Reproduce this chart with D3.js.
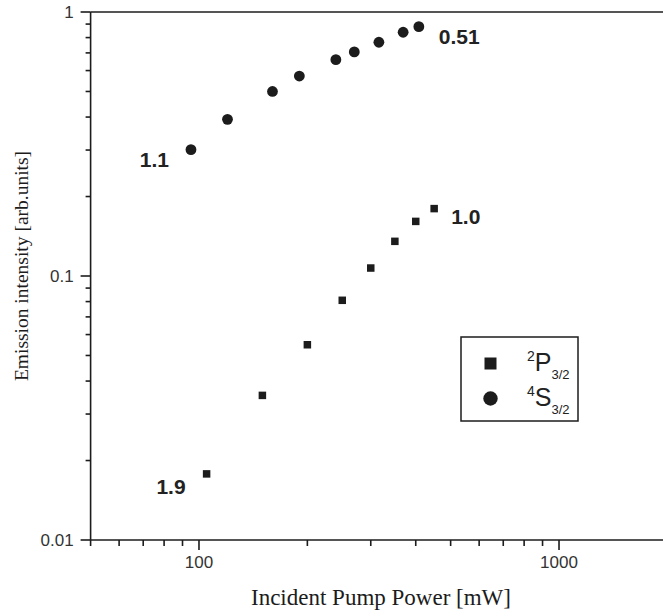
<!DOCTYPE html>
<html>
<head>
<meta charset="utf-8">
<script src="https://cdn.jsdelivr.net/npm/d3@7"></script>
<style>
  body { margin: 0; background: #fff; }
  svg { display: block; }
</style>
</head>
<body>
<svg id="chart"></svg>
<script>
var pumpP = [105, 150, 200, 250, 300, 350, 400, 450];
var intensP = [0.0178, 0.0353, 0.0549, 0.0809, 0.1072, 0.1353, 0.161, 0.180];
var pumpS = [95, 120, 160, 190, 240, 270, 316, 369, 408];
var intensS = [0.301, 0.392, 0.50, 0.572, 0.660, 0.706, 0.768, 0.838, 0.880];

// slope annotations
var slopeText = ["1.9", "1.0", "1.1", "0.51"];

var xTicks = [100, 1000];
var yTicks = [0.01, 0.1, 1];

var W = 663, H = 616;
var ink = "#1c1c1c";

var svg = d3.select("#chart")
    .attr("width", W)
    .attr("height", H);

var x = d3.scaleLog().domain([50, 2000]).range([90.6, 667.4]);
var y = d3.scaleLog().domain([0.01, 1]).range([540, 12]);

var sans = "'Liberation Sans', Arial, sans-serif";
var serif = "'Liberation Serif', 'Times New Roman', serif";

// minor ticks, every integer multiple within each decade
var xMinor = [];
[10, 100, 1000].forEach(function (d) {
    for (var k = 2; k <= 9; k++) {
        var v = d * k;
        if (v > 50 && v < 2000 && v !== 100 && v !== 1000) xMinor.push(v);
    }
});
xMinor.push(50);
var yMinor = [];
[0.01, 0.1].forEach(function (d) {
    for (var k = 2; k <= 9; k++) yMinor.push(d * k);
});

var axes = svg.append("g").attr("stroke", ink).attr("stroke-width", 1.6);

// top frame line and axes
axes.append("line").attr("x1", x(50)).attr("x2", W).attr("y1", y(1)).attr("y2", y(1));
axes.append("line").attr("x1", x(50)).attr("x2", W).attr("y1", y(0.01)).attr("y2", y(0.01));
axes.append("line").attr("x1", x(50)).attr("x2", x(50)).attr("y1", y(1)).attr("y2", y(0.01));

axes.selectAll(".xmin").data(xMinor).join("line")
    .attr("x1", d => x(d)).attr("x2", d => x(d))
    .attr("y1", y(0.01)).attr("y2", y(0.01) + 6);
axes.selectAll(".xmaj").data(xTicks).join("line")
    .attr("x1", d => x(d)).attr("x2", d => x(d))
    .attr("y1", y(0.01)).attr("y2", y(0.01) + 10);
axes.selectAll(".ymin").data(yMinor).join("line")
    .attr("x1", x(50) - 5).attr("x2", x(50))
    .attr("y1", d => y(d)).attr("y2", d => y(d));
axes.selectAll(".ymaj").data(yTicks).join("line")
    .attr("x1", x(50) - 10).attr("x2", x(50))
    .attr("y1", d => y(d)).attr("y2", d => y(d));

svg.selectAll(".xlab").data(xTicks).join("text")
    .attr("x", d => x(d)).attr("y", y(0.01) + 28)
    .attr("text-anchor", "middle")
    .attr("font-family", sans).attr("font-size", 17).attr("fill", "#333")
    .text(d => d);
svg.selectAll(".ylab").data(yTicks).join("text")
    .attr("x", x(50) - 17).attr("y", d => y(d) + 6)
    .attr("text-anchor", "end")
    .attr("font-family", sans).attr("font-size", 17).attr("fill", "#333")
    .text(d => d);

svg.append("text")
    .attr("x", 381).attr("y", 605)
    .attr("text-anchor", "middle")
    .attr("font-family", serif).attr("font-size", 23).attr("fill", ink)
    .text("Incident Pump Power [mW]");
svg.append("text")
    .attr("transform", "translate(28,266)rotate(-90)")
    .attr("text-anchor", "middle")
    .attr("font-family", serif).attr("font-size", 19.5).attr("fill", ink)
    .text("Emission intensity [arb.units]");

// data markers
var sq = 7.5;
svg.selectAll(".p").data(pumpP).join("rect")
    .attr("x", (d, i) => x(d) - sq / 2)
    .attr("y", (d, i) => y(intensP[i]) - sq / 2)
    .attr("width", sq).attr("height", sq)
    .attr("fill", ink);
svg.selectAll(".s").data(pumpS).join("circle")
    .attr("cx", d => x(d))
    .attr("cy", (d, i) => y(intensS[i]))
    .attr("r", 5.4)
    .attr("fill", ink);

// slope labels, placed next to the end points of each series
var anchors = [
    {px: pumpP[0], py: intensP[0], dx: -21, dy: 20, anchor: "end"},
    {px: pumpP[pumpP.length - 1], py: intensP[intensP.length - 1], dx: 17, dy: 15, anchor: "start"},
    {px: pumpS[0], py: intensS[0], dx: -22, dy: 17, anchor: "end"},
    {px: pumpS[pumpS.length - 1], py: intensS[intensS.length - 1], dx: 20, dy: 17, anchor: "start"}
];
svg.selectAll(".slope").data(anchors).join("text")
    .attr("x", d => x(d.px) + d.dx)
    .attr("y", d => y(d.py) + d.dy)
    .attr("text-anchor", d => d.anchor)
    .attr("font-family", sans).attr("font-weight", "bold")
    .attr("font-size", 21).attr("fill", "#222")
    .text((d, i) => slopeText[i]);

// legend
var lg = svg.append("g").attr("transform", "translate(461,337)");
lg.append("rect").attr("width", 117).attr("height", 84)
    .attr("fill", "none").attr("stroke", ink).attr("stroke-width", 1.5);
lg.append("rect").attr("x", 23.5).attr("y", 20.5).attr("width", 12).attr("height", 12).attr("fill", ink);
lg.append("circle").attr("cx", 29.5).attr("cy", 61.5).attr("r", 7.2).attr("fill", ink);

var legendRows = [["2", "P", "3/2"], ["4", "S", "3/2"]];
legendRows.forEach(function (r, i) {
    var t = lg.append("text")
        .attr("x", 66).attr("y", 34 + i * 35)
        .attr("font-family", sans).attr("fill", "#222");
    t.append("tspan").attr("font-size", 14).attr("dy", -10).text(r[0]);
    t.append("tspan").attr("font-size", 25).attr("dy", 10).text(r[1]);
    t.append("tspan").attr("font-size", 13).attr("dy", 8).text(r[2]);
});
</script>
</body>
</html>
